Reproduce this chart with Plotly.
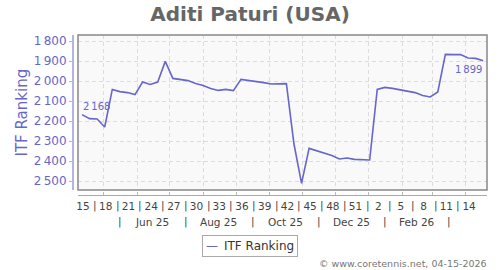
import pandas as pd
import plotly.graph_objects as go

# ---- data ----
start_date = "2025-04-11"
ranking = [2168, 2188, 2190, 2230, 2042, 2053, 2058, 2068, 2005, 2017,
           2005, 1902, 1987, 1992, 1998, 2012, 2022, 2037, 2047, 2042,
           2048, 1992, 1997, 2000, 2008, 2015, 2015, 2013, 2315, 2512,
           2337, 2348, 2362, 2373, 2390, 2385, 2392, 2395, 2395, 2042,
           2032, 2037, 2045, 2053, 2058, 2073, 2080, 2055, 1867, 1868,
           1868, 1885, 1887, 1899]
week_labels = ["15", "18", "21", "24", "27", "30", "33", "36", "39", "42",
               "45", "48", "51", "2", "5", "8", "11", "14"]
month_labels = ["Jun 25", "Aug 25", "Oct 25", "Dec 25", "Feb 26"]
month_label_dates = ["2025-06-15", "2025-08-15", "2025-10-16", "2025-12-16", "2026-02-15"]
month_sep_dates = ["2025-05-16", "2025-07-16", "2025-09-16", "2025-11-16", "2026-01-16", "2026-03-16"]
y_ticks = [1800, 1900, 2000, 2100, 2200, 2300, 2400, 2500]
series_name = "ITF Ranking"

dates = pd.date_range(start_date, periods=len(ranking), freq="7D")
week_tick_dates = list(dates[::3])

BLUE = "#6666cc"
FONT = "DejaVu Sans"
THIN = "\u2009"
xrange = ["2025-04-07 07:00", "2026-04-20 12:00"]

def fmt(v):
    return f"{v:,}".replace(",", THIN)

fig = go.Figure()
fig.add_trace(go.Scatter(x=dates, y=ranking, mode="lines", name=series_name,
                         line=dict(color=BLUE, width=1.6), xaxis="x", yaxis="y",
                         showlegend=False))
# invisible helper so the week-label axis renders
fig.add_trace(go.Scatter(x=dates, y=ranking, mode="lines", showlegend=False,
                         line=dict(color="rgba(0,0,0,0)", width=0), hoverinfo="skip",
                         xaxis="x2", yaxis="y"))

AX_FONT = dict(family=FONT, size=10.5, color="#444")
annotations = []
# week separators
for i in range(len(week_tick_dates) - 1):
    d = week_tick_dates[i] + pd.Timedelta(days=12)
    annotations.append(dict(x=d, y=-0.0625, xref="x", yref="paper", text="|", showarrow=False,
                            font=AX_FONT, yanchor="middle"))
for d, t in zip(month_label_dates, month_labels):
    annotations.append(dict(x=d, y=-0.167, xref="x", yref="paper", text=t, showarrow=False,
                            font=AX_FONT, yanchor="middle"))
for d in month_sep_dates:
    annotations.append(dict(x=d, y=-0.167, xref="x", yref="paper", text="|", showarrow=False,
                            font=AX_FONT, yanchor="middle"))
# first / last labels
annotations.append(dict(x=dates[0], y=ranking[0], xref="x", yref="y", text=fmt(ranking[0]),
                        showarrow=False, xanchor="left", yanchor="middle", yshift=8, xshift=-1,
                        font=dict(family=FONT, size=10, color=BLUE)))
annotations.append(dict(x=dates[-1], y=ranking[-1], xref="x", yref="y", text=fmt(ranking[-1]),
                        showarrow=False, xanchor="right", yanchor="middle", yshift=-9, xshift=1,
                        font=dict(family=FONT, size=10, color=BLUE)))
# y-axis title
annotations.append(dict(x=-0.1256, y=0.5 + 0.5 * 0.03125, xref="paper", yref="paper", text=series_name,
                        textangle=-90, showarrow=False, xanchor="center", yanchor="middle",
                        font=dict(family=FONT, size=15, color=BLUE)))
# legend box
annotations.append(dict(x=(249.5 - 73) / 414, y=(195 - 246) / 160, xref="paper", yref="paper",
                        text=f"<span style='color:{BLUE}'>\u2014</span>\u2002{series_name}",
                        showarrow=False, xanchor="center", yanchor="middle",
                        bordercolor="#aaa", borderwidth=1, borderpad=3, bgcolor="white",
                        font=dict(family=FONT, size=12, color="#333")))
# copyright
annotations.append(dict(x=1.005, y=-0.425, xref="paper", yref="paper",
                        text="\u00a9 www.coretennis.net, 04-15-2026", showarrow=False,
                        xanchor="right", yanchor="middle",
                        font=dict(family=FONT, size=9.5, color="#777")))

fig.update_layout(
    width=500, height=270,
    margin=dict(l=73, r=13, t=35, b=75),
    paper_bgcolor="white", plot_bgcolor="#f9f9f9",
    separators="." + THIN,
    title=dict(text="<b>Aditi Paturi (USA)</b>", x=0.5, xanchor="center", y=1 - 14 / 270,
               yanchor="middle", font=dict(family=FONT, size=20, color="#666")),
    font=dict(family=FONT),
    xaxis=dict(type="date", range=xrange, domain=[5 / 414, 1], anchor="free", position=0,
               tick0="2025-01-01", dtick="M1", showticklabels=False,
               ticks="inside", ticklen=3, tickcolor="#bbb",
               showgrid=True, gridcolor="#dcdcdc", griddash="4px,3px", gridwidth=1,
               showline=True, linecolor="#aaa", linewidth=1, zeroline=False),
    xaxis2=dict(type="date", range=xrange, overlaying="x", anchor="free", position=0,
                side="bottom", tickmode="array", tickvals=week_tick_dates, ticktext=week_labels,
                ticks="", showgrid=False, showline=False, zeroline=False,
                ticklabelstandoff=3, ticklabelshift=1,
                tickfont=AX_FONT),
    yaxis=dict(range=[2545, 1770], domain=[5 / 160, 1], anchor="free", position=0,
               tickmode="array", tickvals=y_ticks, tickformat=",d",
               ticks="outside", ticklen=3, tickcolor="#b4b4e4",
               tickfont=dict(family=FONT, size=12, color=BLUE),
               showgrid=True, gridcolor="#dcdcdc", griddash="4px,3px", gridwidth=1,
               showline=True, linecolor="#b4b4e4", linewidth=2, zeroline=False),
    shapes=[dict(type="rect", xref="x domain", yref="y domain", x0=0, x1=1, y0=0, y1=1,
                 line=dict(color="#888", width=1.5), layer="above")],
    annotations=annotations,
    showlegend=False,
)

fig.write_html("out.html")
